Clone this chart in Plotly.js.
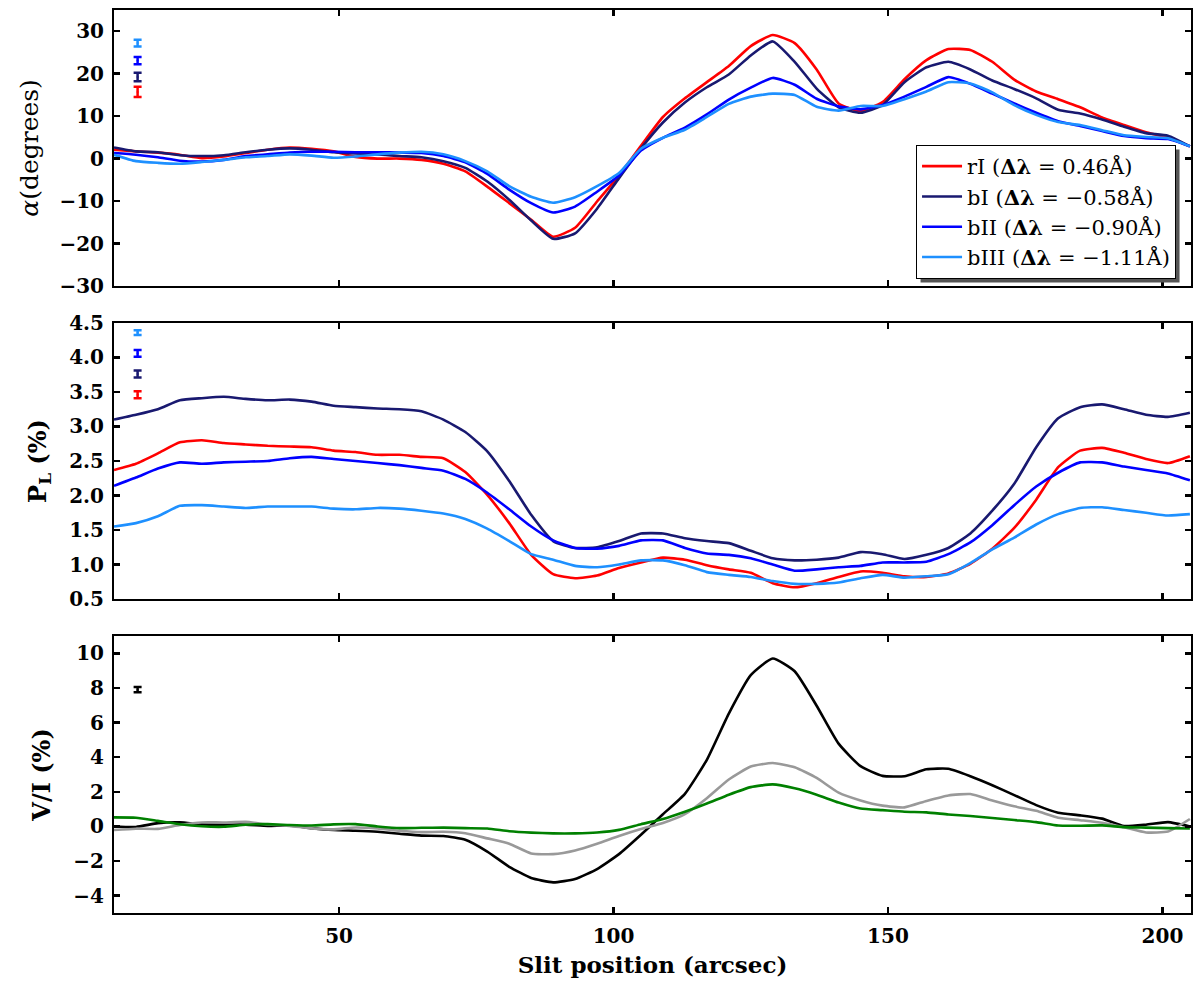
<!DOCTYPE html>
<html>
<head>
<meta charset="utf-8">
<script src="https://cdn.plot.ly/plotly-3.0.1.min.js"></script>
<style>
  body { margin: 0; background: white; }
  #chart { width: 1200px; height: 982px; }
</style>
</head>
<body>
<div id="chart"></div>
<script>
// slit positions (arcsec)
const slitPos = [9, 13, 17, 21, 25, 29, 33, 37, 41, 45, 49, 53, 57, 61, 65, 69, 73, 77, 81, 85, 89, 93, 97,
  101, 105, 109, 113, 117, 121, 125, 129, 133, 137, 141, 145, 149, 153, 157, 161, 165, 169, 173, 177, 181,
  185, 189, 193, 197, 201, 205]

// alpha (degrees)
const alphaRI = [2.1, 1.7, 1.4, 0.9, 0.1, 0.5, 1.3, 2.1, 2.6, 2.3, 1.7, 0.4, 0.0, 0.0, -0.3, -1.2, -3.0, -6.6, -10.5, -14.4, -18.4, -16.3, -10.1,
  -4.0, 3.0, 9.8, 14.2, 18.0, 21.8, 26.5, 29.1, 27.2, 21.0, 13.0, 11.2, 13.3, 18.7, 23.2, 25.8, 25.6, 22.8, 18.6, 15.8, 14.0, 12.1, 9.7, 7.9, 6.2, 4.9, 2.9]
const alphaBI = [2.6, 1.7, 1.5, 0.8, 0.6, 0.8, 1.5, 2.1, 2.4, 2.1, 1.5, 1.2, 1.0, 0.6, 0.3, -0.6, -2.2, -5.4, -9.7, -14.6, -18.9, -17.6, -11.8,
  -4.6, 2.4, 8.5, 13.2, 16.8, 19.8, 24.3, 27.6, 22.8, 16.5, 12.1, 10.8, 12.6, 18.0, 21.5, 22.8, 21.0, 18.4, 16.4, 14.2, 11.5, 10.6, 9.2, 7.5, 6.0, 5.4, 2.9]
const alphaBII = [1.3, 0.9, 0.3, -0.5, -0.7, -0.3, 0.6, 1.0, 1.4, 1.6, 1.6, 1.5, 1.5, 1.4, 1.3, 0.6, -0.9, -3.6, -7.3, -10.5, -12.7, -11.3, -7.8,
  -4.0, 1.9, 4.9, 7.3, 10.4, 13.9, 16.7, 19.0, 17.4, 14.1, 12.3, 11.6, 12.6, 14.6, 16.9, 19.2, 17.6, 15.3, 13.0, 10.8, 8.8, 7.7, 6.5, 5.3, 4.8, 4.6, 2.9]
const alphaBIII = [0.9, -0.6, -1.0, -1.2, -0.8, -0.3, 0.3, 0.6, 1.0, 0.7, 0.2, 0.5, 1.0, 1.4, 1.6, 1.0, -0.6, -3.0, -6.5, -9.0, -10.4, -9.1, -6.5,
  -3.4, 2.3, 4.9, 6.8, 9.8, 12.9, 14.6, 15.3, 15.0, 12.2, 11.3, 12.4, 12.4, 14.0, 15.8, 18.0, 17.7, 15.6, 12.6, 10.3, 8.6, 7.9, 6.7, 5.5, 5.1, 4.8, 2.9]

// linear polarisation (%)
const plRI = [2.37, 2.46, 2.61, 2.77, 2.80, 2.76, 2.74, 2.72, 2.71, 2.70, 2.65, 2.63, 2.59, 2.59, 2.56, 2.54, 2.34, 2.01, 1.60, 1.14, 0.86, 0.80, 0.84,
  0.95, 1.03, 1.10, 1.07, 0.99, 0.93, 0.88, 0.73, 0.67, 0.73, 0.82, 0.90, 0.88, 0.83, 0.82, 0.87, 1.01, 1.23, 1.53, 1.94, 2.41, 2.65, 2.69, 2.62, 2.53, 2.47, 2.57]
const plBI = [3.10, 3.17, 3.25, 3.38, 3.41, 3.43, 3.40, 3.38, 3.39, 3.36, 3.30, 3.28, 3.26, 3.25, 3.22, 3.10, 2.92, 2.64, 2.21, 1.72, 1.34, 1.24, 1.25,
  1.34, 1.45, 1.45, 1.38, 1.34, 1.31, 1.20, 1.09, 1.06, 1.07, 1.10, 1.18, 1.15, 1.08, 1.14, 1.24, 1.45, 1.78, 2.17, 2.70, 3.12, 3.28, 3.32, 3.25, 3.17, 3.14, 3.20]
const plBII = [2.14, 2.26, 2.39, 2.48, 2.46, 2.48, 2.49, 2.50, 2.54, 2.56, 2.53, 2.50, 2.47, 2.44, 2.40, 2.36, 2.24, 2.04, 1.80, 1.55, 1.35, 1.24, 1.23,
  1.27, 1.35, 1.35, 1.24, 1.16, 1.14, 1.09, 1.00, 0.91, 0.93, 0.96, 0.98, 1.03, 1.03, 1.04, 1.15, 1.32, 1.57, 1.86, 2.13, 2.33, 2.48, 2.48, 2.42, 2.37, 2.32, 2.22]
const plBIII = [1.55, 1.60, 1.70, 1.85, 1.86, 1.84, 1.82, 1.84, 1.84, 1.84, 1.81, 1.80, 1.82, 1.81, 1.78, 1.74, 1.66, 1.52, 1.34, 1.15, 1.07, 0.98, 0.96,
  1.00, 1.06, 1.06, 0.99, 0.89, 0.85, 0.82, 0.76, 0.72, 0.72, 0.74, 0.80, 0.85, 0.81, 0.83, 0.86, 1.02, 1.22, 1.39, 1.58, 1.73, 1.82, 1.83, 1.79, 1.75, 1.71, 1.73]

// circular polarisation V/I (%)
const viBlack = [0.0, -0.03, 0.19, 0.24, 0.12, 0.1, 0.1, 0.03, 0.06, -0.1, -0.21, -0.25, -0.31, -0.42, -0.53, -0.55, -0.77, -1.45, -2.33, -2.98, -3.23, -3.04, -2.46,
  -1.6, -0.48, 0.70, 1.88, 3.85, 6.52, 8.74, 9.7, 8.96, 6.97, 4.78, 3.48, 2.92, 2.9, 3.3, 3.33, 2.9, 2.38, 1.81, 1.23, 0.79, 0.64, 0.45, 0.02, 0.1, 0.25, 0.0]
const viGray = [-0.21, -0.13, -0.14, 0.08, 0.23, 0.23, 0.27, 0.11, 0.03, -0.11, -0.17, -0.06, -0.12, -0.25, -0.33, -0.31, -0.39, -0.69, -1.0, -1.56, -1.6, -1.39, -1.0,
  -0.55, -0.15, 0.2, 0.71, 1.63, 2.71, 3.46, 3.66, 3.42, 2.8, 1.95, 1.5, 1.2, 1.1, 1.47, 1.79, 1.87, 1.5, 1.16, 0.9, 0.5, 0.36, 0.21, -0.05, -0.35, -0.3, 0.43]
const viGreen = [0.52, 0.5, 0.32, 0.13, 0.01, -0.02, 0.1, 0.13, 0.08, 0.05, 0.12, 0.13, 0.0, -0.1, -0.08, -0.07, -0.1, -0.12, -0.28, -0.36, -0.40, -0.40, -0.35,
  -0.2, 0.13, 0.43, 0.85, 1.32, 1.83, 2.27, 2.43, 2.2, 1.83, 1.38, 1.03, 0.94, 0.85, 0.81, 0.69, 0.6, 0.49, 0.37, 0.25, 0.05, 0.04, 0.06, -0.04, -0.07, -0.1, -0.12]

// typical error bars (rI, bI, bII, bIII)
const errX = 13.3
const alphaErrY = [15.7, 19.2, 23.1, 27.2]
const alphaErr = [1.2, 1.0, 0.85, 0.8]
const plErrY = [3.46, 3.76, 4.06, 4.36]
const plErr = [0.05, 0.05, 0.05, 0.035]
const viErrY = [7.9]
const viErr = [0.15]

const lineNames = ['rI (<b>Δλ</b> = 0.46Å)', 'bI (<b>Δλ</b> = −0.58Å)', 'bII (<b>Δλ</b> = −0.90Å)', 'bIII (<b>Δλ</b> = −1.11Å)']
const lineColors = ['#ff0000', '#191970', '#0000ff', '#1e90ff']
const viColors = ['#000000', '#999999', '#008000']

const traces = []
const alphaSets = [alphaRI, alphaBI, alphaBII, alphaBIII]
const plSets = [plRI, plBI, plBII, plBIII]
const viSets = [viBlack, viGray, viGreen]

function lineStyle (color) {
  return { color: color, width: 2.6, shape: 'spline', smoothing: 0.5 }
}

alphaSets.forEach((ys, i) => {
  traces.push({ x: slitPos, y: ys, name: lineNames[i], mode: 'lines', line: lineStyle(lineColors[i]), xaxis: 'x', yaxis: 'y' })
})
plSets.forEach((ys, i) => {
  traces.push({ x: slitPos, y: ys, mode: 'lines', showlegend: false, line: lineStyle(lineColors[i]), xaxis: 'x2', yaxis: 'y2' })
})
viSets.forEach((ys, i) => {
  traces.push({ x: slitPos, y: ys, mode: 'lines', showlegend: false, line: lineStyle(viColors[i]), xaxis: 'x3', yaxis: 'y3' })
})

// error bar markers
function errTrace (y, e, color, xa, ya) {
  return {
    x: [errX],
    y: [y],
    mode: 'markers',
    showlegend: false,
    marker: { size: 2, color: color },
    error_y: { type: 'data', array: [e], color: color, thickness: 2.5, width: 4 },
    xaxis: xa,
    yaxis: ya
  }
}
alphaErrY.forEach((y, i) => traces.push(errTrace(y, alphaErr[i], lineColors[i], 'x', 'y')))
plErrY.forEach((y, i) => traces.push(errTrace(y, plErr[i], lineColors[i], 'x2', 'y2')))
viErrY.forEach((y, i) => traces.push(errTrace(y, viErr[i], '#000000', 'x3', 'y3')))

const tickFont = { family: 'DejaVu Serif', size: 20, weight: 'bold', color: 'black' }
const axisBase = {
  showline: true,
  linecolor: 'black',
  linewidth: 2,
  mirror: 'allticks',
  ticks: 'inside',
  ticklen: 6,
  tickwidth: 2.5,
  tickcolor: 'black',
  showgrid: false,
  zeroline: false,
  tickfont: tickFont,
  ticklabelstandoff: 4
}
const xRange = [9, 205.2]
const xTicks = [50, 100, 150, 200]

const layout = {
  width: 1200,
  height: 982,
  margin: { l: 114, r: 9, t: 10, b: 69 },
  paper_bgcolor: 'white',
  plot_bgcolor: 'white',
  showlegend: true,
  legend: {
    x: 0.7447,
    y: 0.8505,
    xanchor: 'left',
    yanchor: 'top',
    bgcolor: 'white',
    bordercolor: 'black',
    borderwidth: 1,
    itemwidth: 40,
    font: { family: 'DejaVu Serif', size: 21, color: 'black' }
  },
  xaxis: Object.assign({}, axisBase, { domain: [0, 1], range: xRange, tickvals: xTicks, showticklabels: false, anchor: 'y' }),
  yaxis: Object.assign({}, axisBase, {
    domain: [0.6944, 1],
    range: [-30, 35],
    tickvals: [-30, -20, -10, 0, 10, 20, 30],
    anchor: 'x',
    title: { text: '<i>α</i>(degrees)', font: { family: 'DejaVu Serif', size: 25, color: 'black' }, standoff: 14 }
  }),
  xaxis2: Object.assign({}, axisBase, { domain: [0, 1], range: xRange, tickvals: xTicks, showticklabels: false, anchor: 'y2' }),
  yaxis2: Object.assign({}, axisBase, {
    domain: [0.3477, 0.6534],
    range: [0.5, 4.5],
    tickvals: [0.5, 1.0, 1.5, 2.0, 2.5, 3.0, 3.5, 4.0, 4.5],
    tickformat: '.1f',
    anchor: 'x2',
    title: { text: '<b>P</b><sub><b>L</b></sub><b> (%)</b>', font: { family: 'DejaVu Serif', size: 24, color: 'black' }, standoff: 16 }
  }),
  xaxis3: Object.assign({}, axisBase, {
    domain: [0, 1],
    range: xRange,
    tickvals: xTicks,
    anchor: 'y3',
    title: { text: '<b>Slit position (arcsec)</b>', font: { family: 'DejaVu Serif', size: 23, color: 'black' }, standoff: 10 }
  }),
  yaxis3: Object.assign({}, axisBase, {
    domain: [0, 0.3068],
    range: [-5, 11],
    tickvals: [-4, -2, 0, 2, 4, 6, 8, 10],
    anchor: 'x3',
    title: { text: '<b>V/I (%)</b>', font: { family: 'DejaVu Serif', size: 24, color: 'black' }, standoff: 16 }
  })
}

Plotly.newPlot('chart', traces, layout, { displayModeBar: false, staticPlot: true }).then((gd) => {
  // legend drop shadow, placed from the drawn legend box
  const box = gd.querySelector('.legend .bg').getBoundingClientRect()
  const toX = (px) => (px - 114) / 1077
  const toY = (py) => (913 - py) / 903
  return Plotly.relayout(gd, {
    shapes: [{
      type: 'rect',
      xref: 'paper',
      yref: 'paper',
      x0: toX(box.left + 4),
      x1: toX(box.right + 4),
      y0: toY(box.bottom + 4),
      y1: toY(box.top + 4),
      fillcolor: '#555555',
      line: { width: 0 },
      layer: 'above'
    }]
  })
})
</script>
</body>
</html>
